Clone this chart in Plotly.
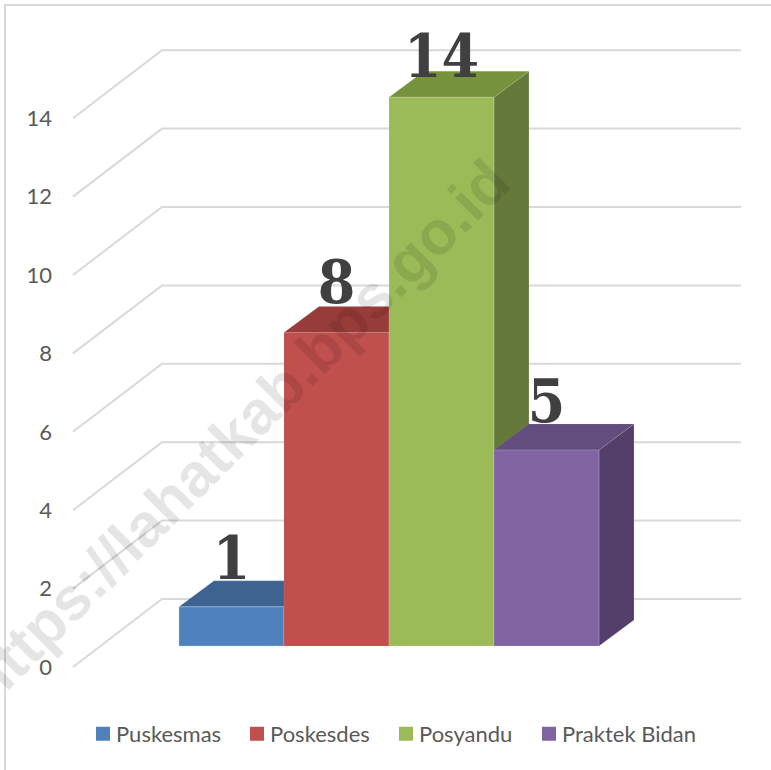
import plotly.graph_objects as go

# ---- data ----
categories = ["Puskesmas", "Poskesdes", "Posyandu", "Praktek Bidan"]
values = [1, 8, 14, 5]
axis_ticks = [0, 2, 4, 6, 8, 10, 12, 14]
front_colors = ["#4f81bd", "#c0504d", "#9bbb59", "#8064a2"]
top_colors = ["#3e6390", "#983c39", "#76923c", "#634d7e"]
side_colors = ["#34547a", "#7f3230", "#65793a", "#533f69"]
edge_colors = ["rgba(190,210,235,0.6)", "rgba(235,195,195,0.2)",
               "rgba(225,235,200,0.35)", "rgba(210,200,225,0.35)"]
legend_x = [96, 250, 399, 542]
label_drop = [5, 4, 13, 5]   # px the data labels sit lower than the default rise
watermark = "https://lahatkab.bps.go.id"

# ---- page geometry (pixels) ----
W, H = 771, 770
PX_PER_CAT = 105.0      # width of one bar
PX_PER_UNIT = 39.2      # height of one value unit
FIRST_CENTER = 231.5    # px of first bar centre
BAR_FLOOR = 646.0       # px of bar front floor
GRID_FLOOR = 667.0      # px of front-left end of the 0 gridline
DEPTH_X, DEPTH_Y = 35 / PX_PER_CAT, 26 / PX_PER_UNIT
GRID_X = [(p - FIRST_CENTER) / PX_PER_CAT for p in (73, 162, 741)]
GRID_RISE = 68 / PX_PER_UNIT
LABEL_RISE = 22 / PX_PER_UNIT

x_range = [-FIRST_CENTER / PX_PER_CAT, (W - FIRST_CENTER) / PX_PER_CAT]
bar_y_range = [(BAR_FLOOR - H) / PX_PER_UNIT, BAR_FLOOR / PX_PER_UNIT]
grid_y_range = [(GRID_FLOOR - H) / PX_PER_UNIT, GRID_FLOOR / PX_PER_UNIT]

fig = go.Figure()

# gridlines on the floor/wall, in the value scale of the tick axis
for t in axis_ticks:
    fig.add_trace(go.Scatter(
        x=GRID_X, y=[t, t + GRID_RISE, t + GRID_RISE], mode="lines",
        line=dict(color="#d9d9d9", width=2), showlegend=False, hoverinfo="skip",
        xaxis="x", yaxis="y"))

# one overlaid axis pair per series, painted left to right
for i, (cat, val) in enumerate(zip(categories, values)):
    n = i + 2
    xa, ya = f"x{n}", f"y{n}"
    l, r = i - 0.5, i + 0.5
    # legend entry (empty bar with a 14 px swatch)
    fig.add_trace(go.Bar(
        x=[None], y=[None], name=cat, xaxis="x", yaxis="y",
        marker=dict(color=front_colors[i], line=dict(color=front_colors[i], width=2)),
        legend="legend" if i == 0 else f"legend{i + 1}", hoverinfo="skip"))
    fig.add_trace(go.Bar(
        x=[i], y=[val], width=1, name=cat, xaxis=xa, yaxis=ya, showlegend=False,
        marker=dict(color=front_colors[i], line=dict(width=0))))
    fig.add_trace(go.Scatter(
        x=[r, r + DEPTH_X, r + DEPTH_X, r, r],
        y=[0, DEPTH_Y, val + DEPTH_Y, val, 0],
        mode="lines", fill="toself", fillcolor=side_colors[i],
        line=dict(color=edge_colors[i], width=0.6),
        showlegend=False, hoverinfo="skip", xaxis=xa, yaxis=ya))
    fig.add_trace(go.Scatter(
        x=[l, l + DEPTH_X, r + DEPTH_X, r, l],
        y=[val, val + DEPTH_Y, val + DEPTH_Y, val, val],
        mode="lines", fill="toself", fillcolor=top_colors[i],
        line=dict(color=edge_colors[i], width=0.3),
        showlegend=False, hoverinfo="skip", xaxis=xa, yaxis=ya))
    fig.add_trace(go.Scatter(
        x=[l, r, r, l, l], y=[0, 0, val, val, 0], mode="lines",
        line=dict(color=edge_colors[i], width=0.6),
        showlegend=False, hoverinfo="skip", xaxis=xa, yaxis=ya))

# data labels on the last overlay so they stay on top
fig.add_trace(go.Scatter(
    x=list(range(len(values))),
    y=[v + DEPTH_Y + LABEL_RISE - d / PX_PER_UNIT for v, d in zip(values, label_drop)],
    text=[str(v) for v in values], mode="text", textposition="middle center",
    textfont=dict(family="DejaVu Serif Condensed, DejaVu Serif", size=60, color="#404040",
                  weight="bold"),
    showlegend=False, hoverinfo="skip", xaxis="x5", yaxis="y5"))

layout = dict(
    width=W, height=H, margin=dict(l=0, r=0, t=0, b=0, pad=0),
    paper_bgcolor="white", plot_bgcolor="rgba(0,0,0,0)", barmode="overlay",
    font=dict(family="Lato", color="#595959"),
    xaxis=dict(range=x_range, visible=False, domain=[0, 1]),
    yaxis=dict(range=grid_y_range, domain=[0, 1], tickmode="array", tickvals=axis_ticks,
               ticktext=[str(t) for t in axis_ticks], showgrid=False, zeroline=False,
               showline=False, ticks="", anchor="free", position=52 / W,
               tickfont=dict(size=22, color="#595959", family="Lato")),
    shapes=[dict(type="path", xref="paper", yref="paper",
                 path=f"M {5/W} 0 L {5/W} {1-5/H} L 1 {1-5/H}",
                 line=dict(color="#d9d9d9", width=2))],
    annotations=[dict(text=f"<b>{watermark}</b>", xref="paper", yref="paper",
                      x=237 / W, y=1 - 432 / H, xanchor="center", yanchor="middle",
                      showarrow=False, textangle=-45,
                      font=dict(family="Liberation Sans", size=61, color="rgba(0,0,0,0.1)"))],
)
for n in range(2, 6):
    layout[f"xaxis{n}"] = dict(range=x_range, visible=False, overlaying="x", domain=[0, 1])
    layout[f"yaxis{n}"] = dict(range=bar_y_range, visible=False, overlaying="y", domain=[0, 1])
for i, lx in enumerate(legend_x):
    key = "legend" if i == 0 else f"legend{i + 1}"
    layout[key] = dict(x=(lx - 13) / W, y=1 - 734 / H, yanchor="middle", xanchor="left",
                       bgcolor="rgba(0,0,0,0)", borderwidth=0, itemwidth=30,
                       font=dict(size=22, color="#595959", family="Lato"))
fig.update_layout(**layout)

post = """
document.body.style.margin = '0';
document.querySelectorAll('.legendtext, .legend2text, .legend3text, .legend4text')
  .forEach(function (t) { t.setAttribute('x', 33); });
"""
fig.write_html("out.html", config=dict(displayModeBar=False), post_script=post)
